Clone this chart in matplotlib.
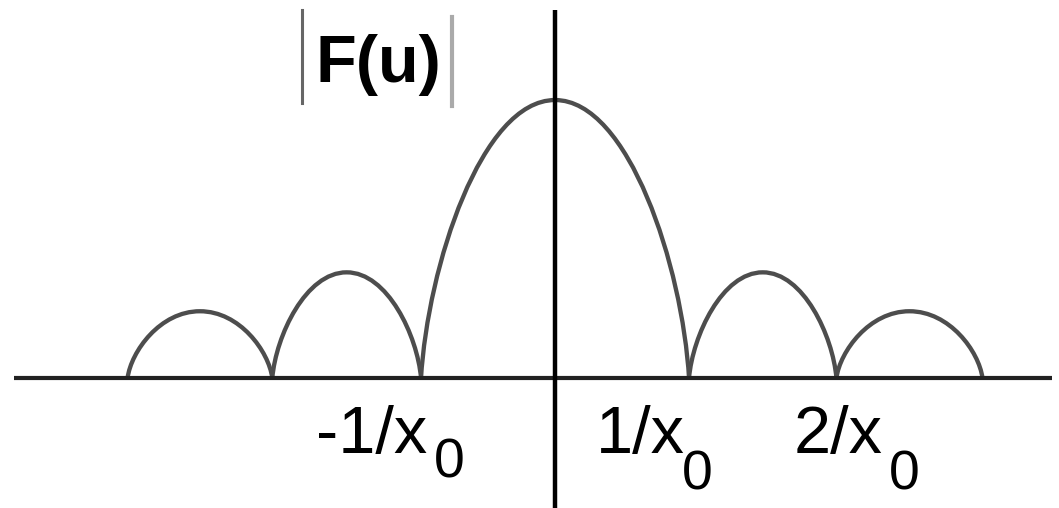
import matplotlib.pyplot as plt
from matplotlib.path import Path
from matplotlib.patches import PathPatch

plt.rcParams['font.family'] = ['Liberation Sans', 'DejaVu Sans']

# lobe zeros (in units of 1/x0) and lobe peak heights of |F(u)|
lobe_left = [-3.19, -2.11, -1.0, 1.0, 2.1]
lobe_right = [-2.11, -1.0, 1.0, 2.1, 3.19]
lobe_peak = [0.24, 0.38, 1.0, 0.38, 0.24]

# tick labels below the axis
tick_text = ["-1/x", "1/x", "2/x"]
tick_sub = ["0", "0", "0"]

fig = plt.figure(figsize=(10.59, 5.08), dpi=100)
ax = fig.add_axes([0, 0, 1, 1])
ax.set_xlim(-4.142, 3.761)
ax.set_ylim(-0.468, 1.36)
ax.axis("off")

# each lobe: two cubic bezier halves, steep at the zeros, flat at the top
for a, b, h in zip(lobe_left, lobe_right, lobe_peak):
    m = (a + b) / 2
    w = (b - a) / 2
    verts = [(a, 0), (a + 0.05 * w, 0.4 * h), (m - 0.55 * w, h), (m, h),
             (m + 0.55 * w, h), (b - 0.05 * w, 0.4 * h), (b, 0)]
    codes = [Path.MOVETO] + [Path.CURVE4] * 6
    ax.add_patch(PathPatch(Path(verts, codes), facecolor="none",
                           edgecolor="#4d4d4d", lw=3.1, zorder=2))

# axes
ax.plot([-4.04, 3.71], [0, 0], color="#222222", lw=3.0, solid_capstyle="butt", zorder=3)
ax.plot([0, 0], [-0.5, 1.324], color="black", lw=3.2, solid_capstyle="butt", zorder=3)

# |F(u)| label
fig.text(315 / 1059, 1 - 82 / 508, "F(u)", fontsize=48, fontweight="bold",
         ha="left", va="baseline")
ax.plot([-1.89, -1.89], [0.99, 1.324], color="#666666", lw=2.2)
ax.plot([-0.77, -0.77], [0.98, 1.30], color="#aaaaaa", lw=3.0)

# labels under the axis
main_x = [316, 596, 794]
main_y = [453, 453, 453]
sub_x = [434, 682, 889]
sub_y = [477, 490, 490]
for t, s, mx, my, sx, sy in zip(tick_text, tick_sub, main_x, main_y, sub_x, sub_y):
    fig.text(mx / 1059, 1 - my / 508, t, fontsize=48, ha="left", va="baseline")
    fig.text(sx / 1059, 1 - sy / 508, s, fontsize=40, ha="left", va="baseline")

fig.savefig("out.png", dpi=100, facecolor="white")
